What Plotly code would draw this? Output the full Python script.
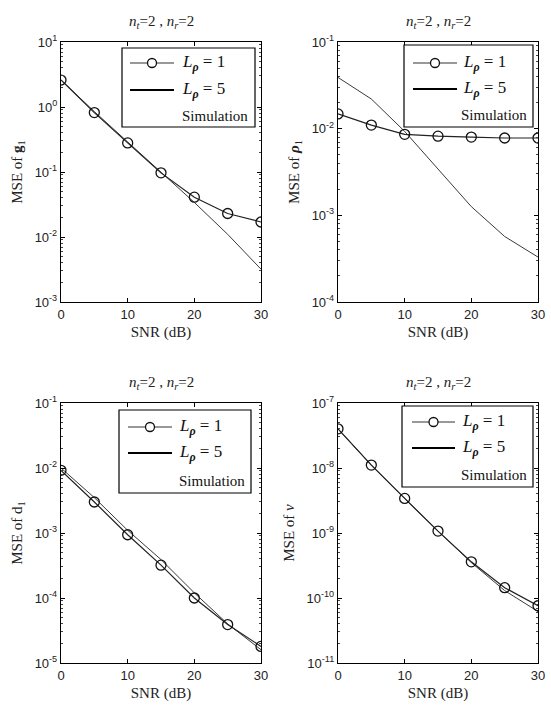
import plotly.graph_objects as go

# ---------------- data ----------------
snr = [0, 5, 10, 15, 20, 25, 30]

g1_L1 = [2.6, 0.82, 0.28, 0.097, 0.041, 0.023, 0.017]
g1_L5 = [2.6, 0.85, 0.29, 0.10, 0.034, 0.011, 0.0032]

rho1_L1 = [0.0148, 0.011, 0.0086, 0.0082, 0.0080, 0.0078, 0.0078]
rho1_L5 = [0.039, 0.022, 0.0093, 0.0034, 0.00126, 0.00057, 0.00033]

d1_L1 = [9.2e-3, 3.0e-3, 9.4e-4, 3.2e-4, 1.0e-4, 3.9e-5, 1.8e-5]
d1_L5 = [1.0e-2, 3.5e-3, 1.1e-3, 3.9e-4, 1.2e-4, 4.0e-5, 1.6e-5]

nu_L1 = [4.0e-8, 1.11e-8, 3.4e-9, 1.07e-9, 3.6e-10, 1.44e-10, 7.6e-11]
nu_L5 = [4.0e-8, 1.11e-8, 3.4e-9, 1.07e-9, 3.5e-10, 1.3e-10, 6.2e-11]

x_ticks = [0, 10, 20, 30]
decades = {
    1: (-3, 1),
    2: (-4, -1),
    3: (-5, -1),
    4: (-11, -7),
}
y_labels = {
    1: "MSE of <b>g</b><sub>1</sub>",
    2: "MSE of <b><i>ρ</i></b><sub>1</sub>",
    3: "MSE of d<sub>1</sub>",
    4: "MSE of <i>ν</i>",
}
title_text = "<i>n</i><sub><i>t</i></sub>=2 , <i>n</i><sub><i>r</i></sub>=2"
legend_L1 = "<i>L</i><sub><b><i>ρ</i></b></sub> = 1"
legend_L5 = "<i>L</i><sub><b><i>ρ</i></b></sub> = 5"
legend_sim = "Simulation"
x_label = "SNR (dB)"

series = {1: (g1_L1, g1_L5), 2: (rho1_L1, rho1_L5), 3: (d1_L1, d1_L5), 4: (nu_L1, nu_L5)}

# ---------------- layout geometry (pixels) ----------------
W, H = 551, 711
panel_px = {  # x0, x1, y_top, y_bottom
    1: (61, 261, 42, 302),
    2: (338, 538, 42, 302),
    3: (61, 261, 403, 663),
    4: (338, 538, 403, 663),
}
legend_px = {  # box x0,x1,y0,y1 ; line x0,x1 ; rows y ; text x
    1: dict(box=(122, 255, 48, 127), line=(130, 174), rows=(63, 90, 116), tx=180, sx=250),
    2: dict(box=(404, 533, 45, 127), line=(413, 457), rows=(63, 89, 115), tx=461, sx=529),
    3: dict(box=(119, 251, 410, 493), line=(128, 172), rows=(427, 453, 481), tx=177, sx=247),
    4: dict(box=(402, 533, 406, 487), line=(412, 455), rows=(422, 448, 475), tx=460, sx=529),
}


def px(x, y):
    return x / W, 1 - y / H


serif = "Liberation Serif"
sans = "Liberation Sans"

fig = go.Figure()
shapes = []
annotations = []
layout = {}

for i in range(1, 5):
    sfx = "" if i == 1 else str(i)
    xa, ya = "x" + sfx, "y" + sfx
    L1, L5 = series[i]
    fig.add_trace(go.Scatter(x=snr, y=L5, mode="lines", xaxis=xa, yaxis=ya,
                             line=dict(color="#3a3a3a", width=1), showlegend=False))
    fig.add_trace(go.Scatter(x=snr, y=L1, mode="lines+markers", xaxis=xa, yaxis=ya,
                             line=dict(color="#222222", width=1.2),
                             marker=dict(symbol="circle-open", size=10, color="#111111",
                                         line=dict(width=1.3)),
                             showlegend=False))

    x0, x1, yt, yb = panel_px[i]
    lo, hi = decades[i]
    tickvals = [10.0 ** k for k in range(lo, hi + 1)]
    ticktext = ["10<sup>%d</sup>" % k for k in range(lo, hi + 1)]
    minor_vals = [m * 10.0 ** k for k in range(lo, hi) for m in range(2, 10)]

    layout["xaxis" + sfx] = dict(
        domain=[x0 / W, x1 / W], anchor=ya, range=[0, 30],
        tickmode="array", tickvals=x_ticks, ticks="inside", ticklen=4,
        tickcolor="black", mirror="ticks", showline=True, linecolor="black",
        linewidth=1.4, showgrid=False, zeroline=False,
        tickfont=dict(family=sans, size=13, color="#222"),
        title=dict(text=x_label, font=dict(family=serif, size=15, color="#222"), standoff=5),
        automargin=False,
    )
    layout["yaxis" + sfx] = dict(
        domain=[1 - yb / H, 1 - yt / H], anchor=xa, type="log", range=[lo, hi],
        tickmode="array", tickvals=tickvals, ticktext=ticktext, ticks="inside",
        ticklen=4, tickcolor="black", mirror="ticks", showline=True,
        linecolor="black", linewidth=1.4, showgrid=False, zeroline=False,
        minor=dict(tickmode="array", tickvals=minor_vals, ticks="inside", ticklen=2,
                   tickcolor="#444", showgrid=False),
        tickfont=dict(family=sans, size=13, color="#222"),
        title=dict(text=y_labels[i], font=dict(family=serif, size=15, color="#222"), standoff=8),
        automargin=False,
    )

    # title
    cx = (x0 + x1) / 2
    tx, ty = px(cx, yt - 20)
    annotations.append(dict(text=title_text, x=tx, y=ty, xref="paper", yref="paper",
                            showarrow=False, font=dict(family=serif, size=15, color="#222"),
                            xanchor="center", yanchor="middle"))

    # legend box (drawn manually)
    lg = legend_px[i]
    bx0, bx1, by0, by1 = lg["box"]
    a0 = px(bx0, by0)
    a1 = px(bx1, by1)
    shapes.append(dict(type="rect", xref="paper", yref="paper", x0=a0[0], y0=a1[1],
                       x1=a1[0], y1=a0[1], line=dict(color="black", width=1.2),
                       fillcolor="white", layer="above"))
    lx0, lx1 = lg["line"]
    r1, r2, r3 = lg["rows"]
    p0, p1 = px(lx0, r1), px(lx1, r1)
    shapes.append(dict(type="line", xref="paper", yref="paper", x0=p0[0], y0=p0[1],
                       x1=p1[0], y1=p1[1], line=dict(color="#333", width=1), layer="above"))
    cxm = (lx0 + lx1) / 2
    c0, c1 = px(cxm - 4.5, r1 - 4.5), px(cxm + 4.5, r1 + 4.5)
    shapes.append(dict(type="circle", xref="paper", yref="paper", x0=c0[0], y0=c1[1],
                       x1=c1[0], y1=c0[1], line=dict(color="#111", width=1.3),
                       fillcolor="white", layer="above"))
    q0, q1 = px(lx0, r2), px(lx1, r2)
    shapes.append(dict(type="line", xref="paper", yref="paper", x0=q0[0], y0=q0[1],
                       x1=q1[0], y1=q1[1], line=dict(color="black", width=2), layer="above"))
    for txt, ry in ((legend_L1, r1), (legend_L5, r2)):
        t = px(lg["tx"], ry)
        annotations.append(dict(text=txt, x=t[0], y=t[1], xref="paper", yref="paper",
                                showarrow=False, xanchor="left", yanchor="middle",
                                font=dict(family=serif, size=17, color="#111")))
    s = px(lg["sx"], r3)
    annotations.append(dict(text=legend_sim, x=s[0], y=s[1], xref="paper", yref="paper",
                            showarrow=False, xanchor="right", yanchor="middle",
                            font=dict(family=serif, size=15, color="#111")))

fig.update_layout(
    width=W, height=H, margin=dict(l=0, r=0, t=0, b=0),
    paper_bgcolor="white", plot_bgcolor="white", showlegend=False,
    shapes=shapes, annotations=annotations, **layout,
)

fig.write_html("out.html")
